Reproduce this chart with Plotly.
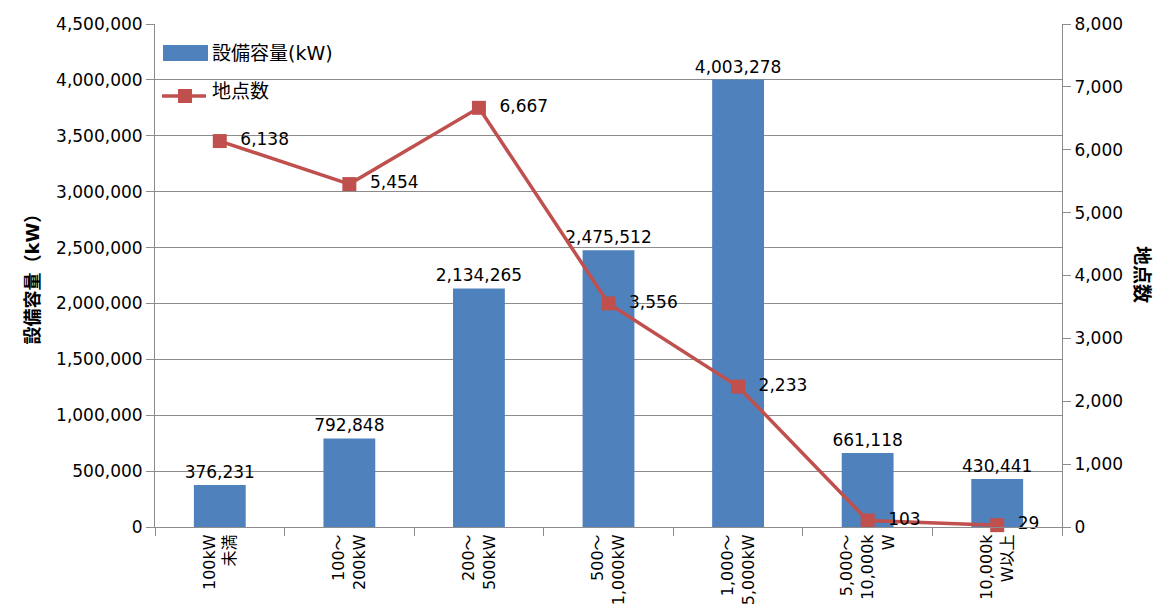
import plotly.graph_objects as go

categories = ["100kW<br>未満", "100～<br>200kW", "200～<br>500kW", "500～<br>1,000kW",
              "1,000～<br>5,000kW", "5,000～<br>10,000k<br>W", "10,000k<br>W以上"]
capacity_kw = [376231, 792848, 2134265, 2475512, 4003278, 661118, 430441]
site_counts = [6138, 5454, 6667, 3556, 2233, 103, 29]

left_ticks = list(range(0, 4500001, 500000))
right_ticks = list(range(0, 8001, 1000))

FONT = "DejaVu Sans, Noto Sans CJK JP, sans-serif"
BLUE = "#4F81BD"
RED = "#C0504D"
GRID = "#8C8C8C"
NB = "\u00a0"

# plot area in page pixels (page body has an 8px margin)
PX_L, PX_R, PX_T, PX_B = 155, 1062, 24, 527
PW, PH = PX_R - PX_L, PX_B - PX_T


def px(x):
    return (x - PX_L) / PW


def py(y):
    return (PX_B - y) / PH


fig = go.Figure()
fig.add_trace(go.Bar(
    x=categories, y=capacity_kw, name="設備容量(kW)",
    marker=dict(color=BLUE, line=dict(width=0)),
    text=[f"{v:,}" for v in capacity_kw], textposition="outside",
    constraintext="none",
    textfont=dict(size=17, color="#000000"), cliponaxis=False,
    hoverinfo="skip",
))
fig.add_trace(go.Scatter(
    x=categories, y=site_counts, name="地点数", yaxis="y2",
    mode="lines+markers+text",
    line=dict(color=RED, width=3.5),
    marker=dict(symbol="square", size=14, color=RED),
    text=[f"{NB}{NB}{v:,}" for v in site_counts], textposition="middle right",
    textfont=dict(size=17, color="#000000"), cliponaxis=False,
    hoverinfo="skip",
))

# legend drawn by hand so the bar key is a wide block like the original
shapes = [
    dict(type="rect", xref="paper", yref="paper",
         x0=px(163), x1=px(208), y0=py(61), y1=py(45),
         fillcolor=BLUE, line=dict(width=0)),
    dict(type="line", xref="paper", yref="paper",
         x0=px(162), x1=px(206), y0=py(96), y1=py(96),
         line=dict(color=RED, width=3.5)),
    dict(type="rect", xref="paper", yref="paper",
         x0=px(178), x1=px(192), y0=py(103), y1=py(89),
         fillcolor=RED, line=dict(width=0)),
]

fig.update_layout(
    width=1158, height=600,
    margin=dict(l=PX_L - 8, r=1166 - PX_R, t=PX_T - 8, b=608 - PX_B),
    paper_bgcolor="white", plot_bgcolor="white",
    font=dict(family=FONT, size=17, color="#000000"),
    bargap=0.6,
    showlegend=False,
    shapes=shapes,
    xaxis=dict(
        tickangle=-90, ticks="outside", tickson="boundaries", ticklen=8,
        tickcolor=GRID, showline=True, linecolor=GRID, linewidth=1,
        tickfont=dict(size=16), automargin=False,
    ),
    yaxis=dict(
        range=[0, 4500000], tickvals=left_ticks,
        ticktext=[f"{v:,}" for v in left_ticks],
        showgrid=True, gridcolor=GRID, gridwidth=1,
        showline=True, linecolor=GRID, ticks="outside", ticklen=8, tickcolor=GRID,
        tickfont=dict(size=17), zeroline=False, automargin=False,
    ),
    yaxis2=dict(
        range=[0, 8000], tickvals=right_ticks,
        ticktext=[f"{v:,}" for v in right_ticks],
        overlaying="y", side="right", showgrid=False,
        showline=True, linecolor=GRID, ticks="outside", ticklen=8, tickcolor=GRID,
        tickfont=dict(size=17), zeroline=False, automargin=False,
    ),
    annotations=[
        dict(text="設備容量(kW)", xref="paper", yref="paper",
             x=px(210), y=py(53), xanchor="left", yanchor="middle",
             showarrow=False, font=dict(size=19)),
        dict(text="地点数", xref="paper", yref="paper",
             x=px(210), y=py(91), xanchor="left", yanchor="middle",
             showarrow=False, font=dict(size=19)),
        dict(text="<b>設備容量（kW）</b>", xref="paper", yref="paper",
             x=px(19), y=py(275), textangle=-90, showarrow=False,
             font=dict(size=18)),
        dict(text="<b>地点数</b>", xref="paper", yref="paper",
             x=px(1155), y=py(274), textangle=90, showarrow=False,
             font=dict(size=19)),
    ],
)

fig.write_html("out.html")
